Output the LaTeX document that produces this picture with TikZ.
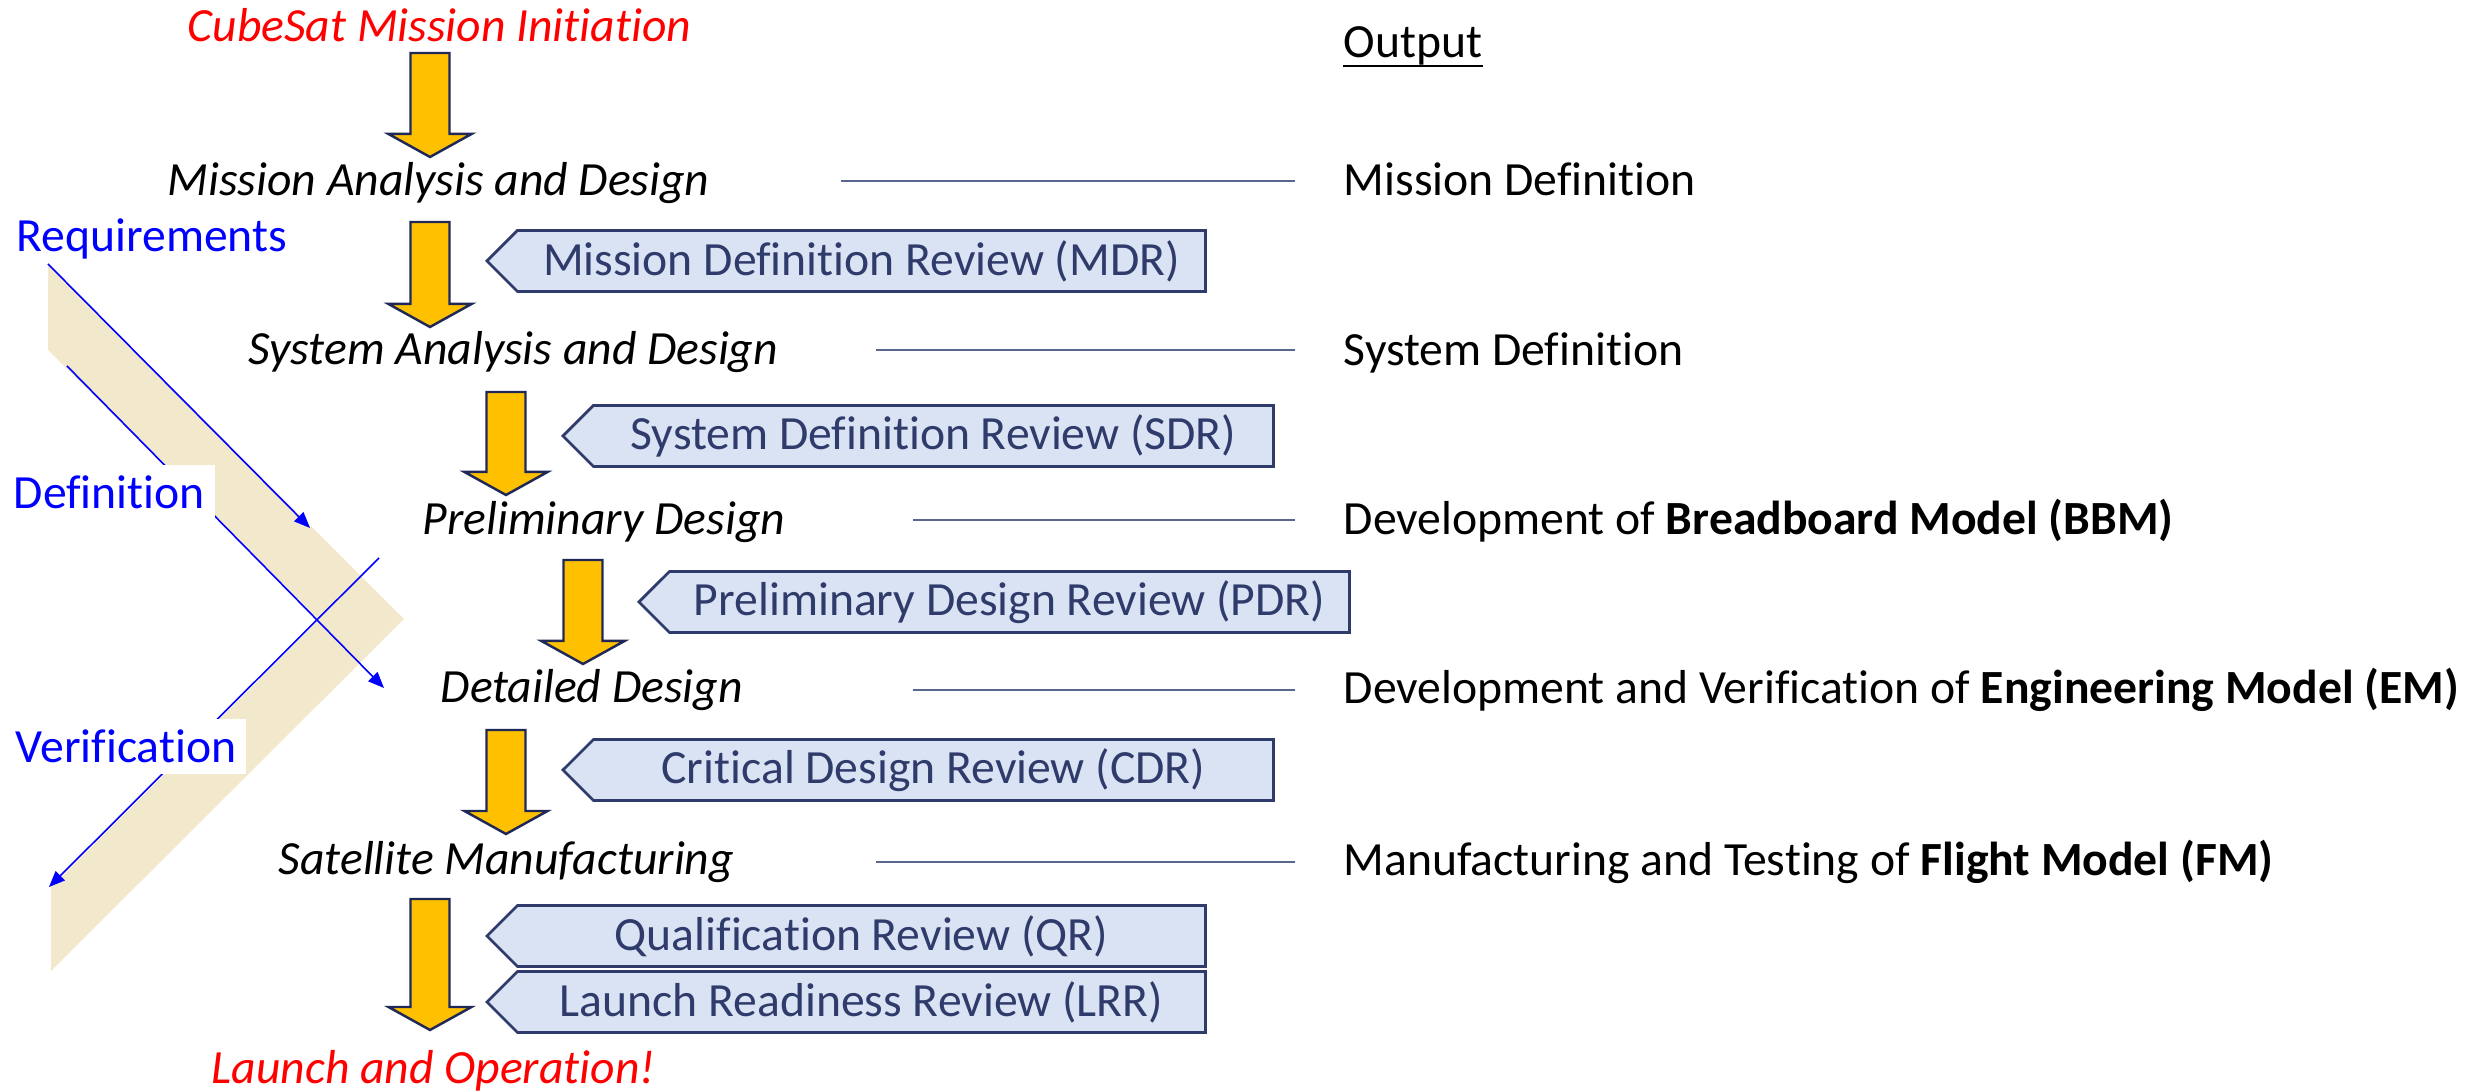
\documentclass[tikz,border=0pt]{standalone}
\usepackage{fontspec}
\setmainfont{Carlito}[Ligatures=NoCommon]
\usetikzlibrary{arrows.meta,calc,shapes.symbols}

\definecolor{arrowfill}{HTML}{FFC000}
\definecolor{arrowline}{HTML}{1F2857}
\definecolor{reviewfill}{HTML}{DAE3F3}
\definecolor{reviewline}{HTML}{2F3B6B}
\definecolor{bandtan}{HTML}{F2E8CB}
\definecolor{rulegray}{HTML}{5A6690}
\definecolor{phaseblue}{HTML}{0000FF}

\tikzset{
  stage/.style={anchor=base west, inner sep=0pt, font=\itshape},
  redtext/.style={stage, text=red},
  outtext/.style={anchor=base west, inner sep=0pt},
  phase/.style={anchor=base west, text=phaseblue, inner xsep=0.1cm, inner ysep=0.11cm},
  phasebox/.style={phase, fill=white},
  review/.style={signal, signal to=west, signal from=nowhere, signal pointer angle=90,
    draw=reviewline, line width=0.8pt, fill=reviewfill, text=reviewline,
    minimum height=0.61cm, inner sep=0pt, anchor=west},
  fatarrow/.style={draw=arrowline, fill=arrowfill, line width=0.7pt,
    to path={let \p1=(\tikztostart), \p2=(\tikztotarget) in
      (\x1-0.195cm,\y1) -- (\x1+0.195cm,\y1) -- (\x1+0.195cm,\y2+0.23cm)
      -- (\x1+0.415cm,\y2+0.23cm) -- (\x2,\y2) -- (\x1-0.415cm,\y2+0.23cm)
      -- (\x1-0.195cm,\y2+0.23cm) -- cycle}},
  phasearrow/.style={draw=phaseblue, line width=0.45pt, -{Triangle[length=0.16cm,width=0.13cm]}},
  rule/.style={draw=rulegray, line width=0.45pt, shorten >=0.48cm}
}

\begin{document}
\fontsize{13.55pt}{16pt}\selectfont
\begin{tikzpicture}[x=0.01cm, y=-0.01cm]
    \useasboundingbox (0,0) rectangle (2481,1092);

    % Tan band
    \fill[bandtan] (48,264) -- (404,619) -- (51,971) -- (51,887) -- (319,620) -- (48,350) -- cycle;

    % Blue phase arrows
    \coordinate (reqA) at (48,264);
    \coordinate (reqB) at (310,528);
    \coordinate (defA) at (67,366);
    \coordinate (defB) at (384,688);
    \coordinate (verA) at (379,558);
    \coordinate (verB) at (49,887);
    \draw[phasearrow] (reqA) -- (reqB);
    \draw[phasearrow] (defA) -- (defB);
    \draw[phasearrow] (verA) -- (verB);

    % Phase labels
    \node[phase] (req) at (6,252) {Requirements};
    \node[phasebox] (def) at (3,509) {Definition};
    \node[phasebox] (ver) at (5,763) {Verification};

    % Stages
    \node[redtext] (init) at (187,42) {CubeSat Mission Initiation};
    \node[stage] (mad) at (167,196) {Mission Analysis and Design};
    \node[stage] (sad) at (248,365) {System Analysis and Design};
    \node[stage] (pd) at (422,535) {Preliminary Design};
    \node[stage] (dd) at (440,703) {Detailed Design};
    \node[stage] (sm) at (278,875) {Satellite Manufacturing};
    \node[redtext] (lo) at (211,1084) {Launch and Operation!};

    % Yellow arrows between stages
    \foreach \k/\x/\t/\b in {1/430/53/157, 2/430/222/327, 3/506/392/495,
                             4/583/560/664, 5/506/730/834, 6/430/899/1030} {
        \coordinate (up\k) at (\x,\t);
        \coordinate (dn\k) at (\x,\b);
        \draw[fatarrow] (up\k) to (dn\k);
    }

    % Reviews
    \node[review, minimum width=7.18cm] (mdr) at (485,261) {Mission Definition Review (MDR)};
    \node[review, minimum width=7.10cm] (sdr) at (561,436) {System Definition Review (SDR)};
    \node[review, minimum width=7.10cm] (pdr) at (637,602) {Preliminary Design Review (PDR)};
    \node[review, minimum width=7.10cm] (cdr) at (561,770) {Critical Design Review (CDR)};
    \node[review, minimum width=7.18cm] (qr) at (485,936) {Qualification Review (QR)};
    \node[review, minimum width=7.18cm] (lrr) at (485,1002) {Launch Readiness Review (LRR)};

    % Outputs
    \node[outtext] (out0) at (1343,58) {Output};
    \draw[line width=0.55pt] ([yshift=-0.08cm]out0.base west) -- ([yshift=-0.08cm]out0.base east);
    \node[outtext] (out1) at (1343,196) {Mission Definition};
    \node[outtext] (out2) at (1343,366) {System Definition};
    \node[outtext] (out3) at (1343,535) {Development of \textbf{Breadboard Model (BBM)}};
    \node[outtext] (out4) at (1343,704) {Development and Verification of \textbf{Engineering Model (EM)}};
    \node[outtext] (out5) at (1343,876) {Manufacturing and Testing of \textbf{Flight Model (FM)}};

    % Rules from stages to outputs
    \coordinate (r1) at (841,181);
    \coordinate (r2) at (876,350);
    \coordinate (r3) at (913,520);
    \coordinate (r4) at (913,690);
    \coordinate (r5) at (876,862);
    \draw[rule] (r1) -- (r1 -| out1.west);
    \draw[rule] (r2) -- (r2 -| out2.west);
    \draw[rule] (r3) -- (r3 -| out3.west);
    \draw[rule] (r4) -- (r4 -| out4.west);
    \draw[rule] (r5) -- (r5 -| out5.west);
\end{tikzpicture}
\end{document}
